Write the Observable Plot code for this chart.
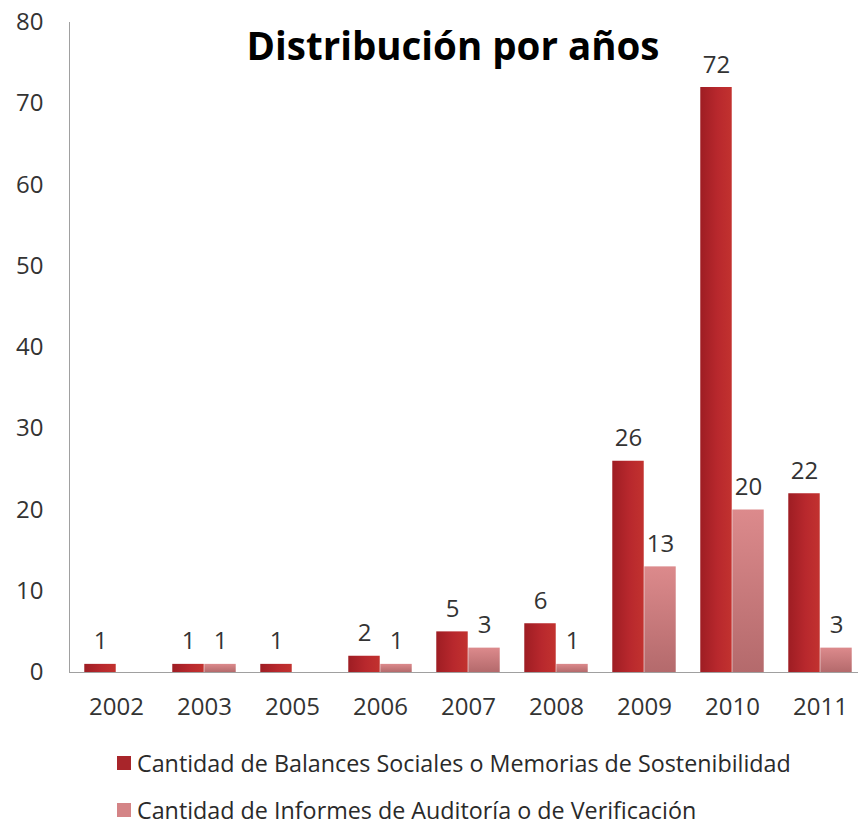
<!DOCTYPE html>
<html>
<head>
<meta charset="utf-8">
<script src="https://cdn.jsdelivr.net/npm/d3@7"></script>
<script src="https://cdn.jsdelivr.net/npm/@observablehq/plot@0.6"></script>
<style>
  body { margin: 0; background: #fff; font-family: "Open Sans", sans-serif; }
  #wrap { position: relative; width: 860px; height: 825px; }
  .legend { position: absolute; left: 117px; font-size: 23.3px; color: #2a2a2a; display: flex; align-items: center; white-space: nowrap; }
  .sw { width: 14px; height: 14px; margin-right: 6px; }
</style>
</head>
<body>
<div id="wrap"></div>
<script>
const years = ["2002", "2003", "2005", "2006", "2007", "2008", "2009", "2010", "2011"];
const balances = [1, 1, 1, 2, 5, 6, 26, 72, 22];
const informes = [0, 1, 0, 1, 3, 1, 13, 20, 3];
const seriesNames = [
  "Cantidad de Balances Sociales o Memorias de Sostenibilidad",
  "Cantidad de Informes de Auditoría o de Verificación"
];
const yTicks = [0, 10, 20, 30, 40, 50, 60, 70, 80];
const title = "Distribución por años";

const dataA = years.map((y, i) => ({year: y, value: balances[i]}));
const dataB = years.map((y, i) => ({year: y, value: informes[i]}));

const W = 860;
const xRange = [69, 866];
const step = (xRange[1] - xRange[0]) / years.length;
const barW = 32;
const outer = step / 2 - barW;

const chart = Plot.plot({
  width: W,
  height: 725,
  marginLeft: 69,
  marginRight: 2,
  marginTop: 22,
  marginBottom: 53,
  style: {fontFamily: "Open Sans, sans-serif", background: "#fff"},
  x: {type: "band", domain: years, range: xRange, padding: 0, label: null},
  y: {domain: [0, 80], label: null},
  marks: [
    Plot.axisX({tickSize: 0, tickPadding: 25, fontSize: 24, fill: "#333", label: null}),
    Plot.axisY({ticks: yTicks, tickSize: 0, tickPadding: 26, fontSize: 24, fill: "#333", label: null}),
    Plot.frame({anchor: "left", stroke: "#a0a0a0"}),
    Plot.barY(dataA, {x: "year", y: "value", fill: "url(#gA)", insetLeft: outer, insetRight: step / 2}),
    Plot.barY(dataB, {x: "year", y: "value", fill: "url(#gB)", insetLeft: step / 2, insetRight: outer}),
    Plot.ruleY([0], {stroke: "#a0a0a0"}),
    Plot.text(dataA.filter(d => d.value > 0), {x: "year", y: "value", text: d => String(d.value), dx: -barW / 2, dy: -15, lineAnchor: "bottom", fontSize: 24, fill: "#333"}),
    Plot.text(dataB.filter(d => d.value > 0), {x: "year", y: "value", text: d => String(d.value), dx: barW / 2, dy: -15, lineAnchor: "bottom", fontSize: 24, fill: "#333"}),
    Plot.text([title], {frameAnchor: "top", text: d => d, dx: -11, dy: 10, fontSize: 38.5, fontWeight: "bold", fill: "#000", lineAnchor: "top"})
  ]
});

const ns = "http://www.w3.org/2000/svg";
const defs = document.createElementNS(ns, "defs");
defs.innerHTML = `
<linearGradient id="gA" x1="0" y1="0" x2="1" y2="0">
  <stop offset="0" stop-color="#9e1d23"/>
  <stop offset="0.55" stop-color="#b8282d"/>
  <stop offset="1" stop-color="#c2322f"/>
</linearGradient>
<linearGradient id="gB" x1="0" y1="0" x2="0" y2="1">
  <stop offset="0" stop-color="#dc8a8c"/>
  <stop offset="1" stop-color="#b46a6c"/>
</linearGradient>`;
chart.insertBefore(defs, chart.firstChild);

const wrap = document.getElementById("wrap");
wrap.appendChild(chart);

const legendColors = ["#a8252a", "#d48486"];
const legendTops = [747, 794];
seriesNames.forEach((name, i) => {
  const row = document.createElement("div");
  row.className = "legend";
  row.style.top = legendTops[i] + "px";
  const sw = document.createElement("div");
  sw.className = "sw";
  sw.style.background = legendColors[i];
  const t = document.createElement("span");
  t.textContent = name;
  row.appendChild(sw);
  row.appendChild(t);
  wrap.appendChild(row);
});
</script>
</body>
</html>
